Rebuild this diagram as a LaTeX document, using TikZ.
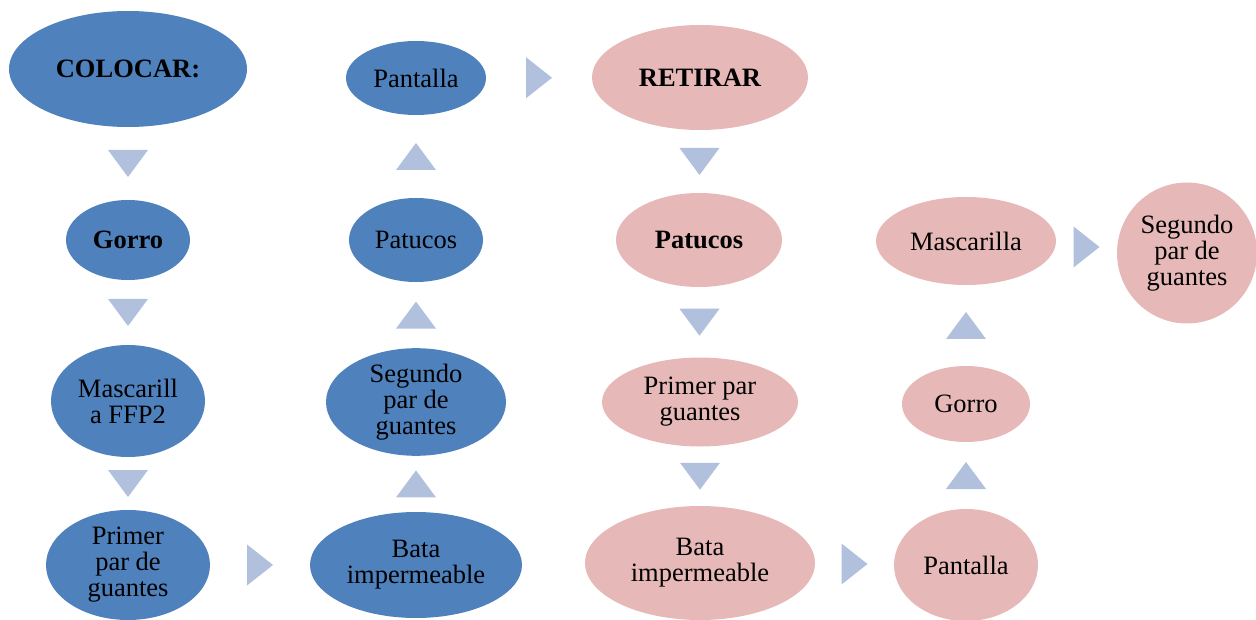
\documentclass[tikz,border=0pt]{standalone}
\usepackage{fontspec}
\setmainfont{Liberation Serif}
\usetikzlibrary{shapes.geometric}
\definecolor{blu}{HTML}{4F81BD}
\definecolor{pnk}{HTML}{E6B9B8}
\definecolor{arr}{HTML}{B0C0DD}
\tikzset{
  bub/.style={ellipse, inner sep=0pt, align=center, text=black,
    font=\fontsize{26.5}{26}\selectfont},
  bl/.style={bub, fill=blu},
  pk/.style={bub, fill=pnk},
  tridown/.pic={\fill[arr] (-20,-13.5) -- (20,-13.5) -- (0,13.5) -- cycle;},
  triup/.pic={\fill[arr] (-20,13.5) -- (20,13.5) -- (0,-13.5) -- cycle;},
  triright/.pic={\fill[arr] (-13,-20.5) -- (-13,20.5) -- (13,0) -- cycle;},
}
\begin{document}
\begin{tikzpicture}[x=1pt,y=-1pt]
\useasboundingbox (0,0) rectangle (1256,620);
% blue column 1
\node[bl, minimum width=238pt, minimum height=116pt] (colocar) at (128,69) {\bfseries COLOCAR:};
\node[bl, minimum width=124pt, minimum height=80pt] (gorroA) at (128,240) {\bfseries Gorro};
\node[bl, minimum width=154pt, minimum height=112pt] (mascA) at (128,401) {Mascarill\\a FFP2};
\node[bl, minimum width=164pt, minimum height=110pt] (primA) at (128,565) {Primer\\par de\\guantes};
% blue column 2
\node[bl, minimum width=212pt, minimum height=106pt] (bataA) at (416,565) {Bata\\impermeable};
\node[bl, minimum width=180pt, minimum height=88pt] (segA) at (416,402) {Segundo\\par de\\guantes};
\node[bl, minimum width=134pt, minimum height=84pt] (patA) at (416,240) {Patucos};
\node[bl, minimum width=140pt, minimum height=74pt] (pantA) at (416,78) {Pantalla};
% pink column 3
\node[pk, minimum width=216pt, minimum height=105pt] (retirar) at (700,77.5) {\bfseries RETIRAR};
\node[pk, minimum width=166pt, minimum height=94pt] (patB) at (699,240) {\bfseries Patucos};
\node[pk, minimum width=196pt, minimum height=89pt] (primB) at (700,402) {Primer par\\guantes};
\node[pk, minimum width=230pt, minimum height=114pt] (bataB) at (700,563) {Bata\\impermeable};
% pink column 4
\node[pk, minimum width=144pt, minimum height=112pt] (pantB) at (966,565) {Pantalla};
\node[pk, minimum width=128pt, minimum height=76pt] (gorroB) at (966,404) {Gorro};
\node[pk, minimum width=180pt, minimum height=88pt] (mascB) at (966,241) {Mascarilla};
\node[pk, minimum width=140pt, minimum height=141pt] (segB) at (1187,253) {Segundo\\par de\\guantes};
% arrow positions
\path (colocar.south) -- coordinate[midway] (a1) (gorroA.north);
\path (gorroA.south) -- coordinate[midway] (a2) (mascA.north);
\path (mascA.south) -- coordinate[midway] (a3) (primA.north);
\path (primA.east) -- coordinate[midway] (a4) (bataA.west);
\path (bataA.north) -- coordinate[midway] (a5) (segA.south);
\path (segA.north) -- coordinate[midway] (a6) (patA.south);
\path (patA.north) -- coordinate[midway] (a7) (pantA.south);
\path (pantA.east) -- coordinate[midway] (a8) (retirar.west);
\path (retirar.south) -- coordinate[midway] (a9) (patB.north);
\path (patB.south) -- coordinate[midway] (a10) (primB.north);
\path (primB.south) -- coordinate[midway] (a11) (bataB.north);
\path (bataB.east) -- coordinate[midway] (a12) (pantB.west);
\path (pantB.north) -- coordinate[midway] (a13) (gorroB.south);
\path (gorroB.north) -- coordinate[midway] (a14) (mascB.south);
\path (mascB.east) -- coordinate[midway] (a15) (segB.west);
\pic at (a1) {tridown};
\pic at (a2) {tridown};
\pic at (a3) {tridown};
\pic at (a4) {triright};
\pic at (a5) {triup};
\pic at (a6) {triup};
\pic at (a7) {triup};
\pic at (a8) {triright};
\pic at (a9) {tridown};
\pic at (a10) {tridown};
\pic at (a11) {tridown};
\pic at (a12) {triright};
\pic at (a13) {triup};
\pic at (a14) {triup};
\pic at (a15) {triright};
\end{tikzpicture}
\end{document}
